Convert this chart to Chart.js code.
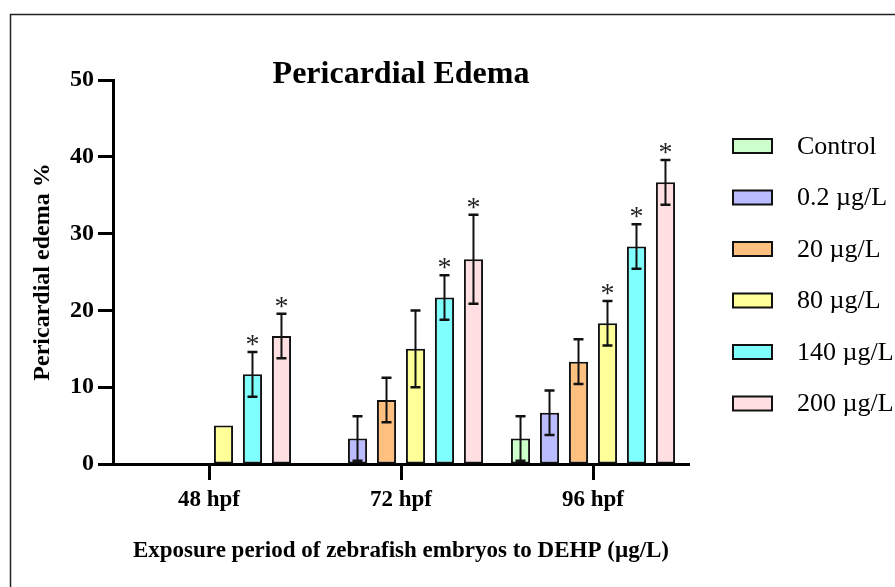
<!DOCTYPE html>
<html>
<head>
<meta charset="utf-8">
<script src="https://cdn.jsdelivr.net/npm/chart.js@4/dist/chart.umd.min.js"></script>
<style>
  html, body { margin: 0; padding: 0; background: #fff; }
  #wrap { width: 895px; height: 587px; }
</style>
</head>
<body>
<div id="wrap"><canvas id="c" width="895" height="587"></canvas></div>
<script>
// ---- data ----
const categories = ['48 hpf', '72 hpf', '96 hpf'];
const seriesNames = ['Control', '0.2 \u00b5g/L', '20 \u00b5g/L', '80 \u00b5g/L', '140 \u00b5g/L', '200 \u00b5g/L'];
const controlVals = [0, 0, 3.33];
const dose02Vals  = [0, 3.33, 6.67];
const dose20Vals  = [0, 8.33, 13.33];
const dose80Vals  = [5.0, 15.0, 18.33];
const dose140Vals = [11.67, 21.67, 28.33];
const dose200Vals = [16.67, 26.67, 36.67];
const controlErr = [0, 0, 2.9];
const dose02Err  = [0, 2.9, 2.9];
const dose20Err  = [0, 2.9, 2.9];
const dose80Err  = [0, 5.0, 2.9];
const dose140Err = [2.9, 2.9, 2.9];
const dose200Err = [2.9, 5.8, 2.9];
const controlSig = [false, false, false];
const dose02Sig  = [false, false, false];
const dose20Sig  = [false, false, false];
const dose80Sig  = [false, false, true];
const dose140Sig = [true, true, true];
const dose200Sig = [true, true, true];
const yTicks = [0, 10, 20, 30, 40, 50];

const fillColors = ['#CCFFCC', '#BBBBFF', '#FFC080', '#FFFF99', '#80FFFF', '#FFDFE1'];
const valuesList = [controlVals, dose02Vals, dose20Vals, dose80Vals, dose140Vals, dose200Vals];
const errList = [controlErr, dose02Err, dose20Err, dose80Err, dose140Err, dose200Err];
const sigList = [controlSig, dose02Sig, dose20Sig, dose80Sig, dose140Sig, dose200Sig];

const SERIF = '"Liberation Serif", "Times New Roman", serif';

const datasets = seriesNames.map((name, i) => ({
  label: name,
  data: valuesList[i],
  err: errList[i],
  sig: sigList[i],
  backgroundColor: fillColors[i],
  borderColor: '#111',
  borderWidth: 2,
  borderSkipped: false,
  categoryPercentage: 0.906,
  barPercentage: 0.66
}));

const decorPlugin = {
  id: 'decor',
  beforeDraw(chart) {
    const ctx = chart.ctx;
    ctx.save();
    ctx.strokeStyle = '#222';
    ctx.lineWidth = 1.5;
    ctx.beginPath();
    ctx.moveTo(10.5, 587);
    ctx.lineTo(10.5, 14.5);
    ctx.lineTo(895, 14.5);
    ctx.stroke();
    ctx.restore();
  },
  afterDatasetsDraw(chart) {
    const ctx = chart.ctx;
    const y = chart.scales.y;
    ctx.save();
    chart.data.datasets.forEach((ds, di) => {
      const meta = chart.getDatasetMeta(di);
      meta.data.forEach((bar, i) => {
        const v = ds.data[i];
        const e = ds.err[i];
        const x = bar.x;
        let topPx = y.getPixelForValue(v);
        if (e > 0) {
          const yt = y.getPixelForValue(v + e);
          const yb = y.getPixelForValue(Math.max(v - e, 0));
          ctx.strokeStyle = '#111';
          ctx.lineWidth = 2;
          ctx.beginPath();
          ctx.moveTo(x, yt); ctx.lineTo(x, yb);
          ctx.stroke();
          ctx.lineWidth = 2.5;
          ctx.beginPath();
          ctx.moveTo(x - 5, yt); ctx.lineTo(x + 5, yt);
          ctx.moveTo(x - 5, yb); ctx.lineTo(x + 5, yb);
          ctx.stroke();
          topPx = yt;
        }
        if (ds.sig[i]) {
          ctx.fillStyle = '#222';
          ctx.font = '28px ' + SERIF;
          ctx.textAlign = 'center';
          ctx.textBaseline = 'alphabetic';
          ctx.fillText('*', x, topPx + 1);
        }
      });
    });
    ctx.restore();
  },
  afterDraw(chart) {
    const ctx = chart.ctx;
    const area = chart.chartArea;
    ctx.save();
    // title
    ctx.fillStyle = '#000';
    ctx.font = 'bold 32px ' + SERIF;
    ctx.textAlign = 'center';
    ctx.textBaseline = 'alphabetic';
    ctx.fillText('Pericardial Edema', (area.left + area.right) / 2, 83);
    // legend
    chart.data.datasets.forEach((ds, i) => {
      const cy = 146 + i * 51.5;
      ctx.fillStyle = ds.backgroundColor;
      ctx.fillRect(733, cy - 7, 39, 14);
      ctx.strokeStyle = '#111';
      ctx.lineWidth = 2;
      ctx.strokeRect(733, cy - 7, 39, 14);
      ctx.fillStyle = '#000';
      ctx.font = '26px ' + SERIF;
      ctx.textAlign = 'left';
      ctx.textBaseline = 'middle';
      ctx.fillText(ds.label, 797, cy + 1);
    });
    ctx.restore();
  }
};

new Chart(document.getElementById('c'), {
  type: 'bar',
  data: { labels: categories, datasets },
  options: {
    responsive: false,
    animation: false,
    devicePixelRatio: 1,
    layout: { padding: { left: 0, right: 206, top: 80, bottom: 0 } },
    plugins: {
      legend: { display: false },
      title: { display: false },
      tooltip: { enabled: false }
    },
    scales: {
      x: {
        afterFit(scale) { scale.height = 123; },
        grid: { display: true, offset: false, drawOnChartArea: false, drawTicks: true,
                tickLength: 16, tickWidth: 3, tickColor: '#000' },
        border: { display: true, color: '#000', width: 3 },
        ticks: { color: '#000', padding: 6, font: { family: SERIF, size: 23, weight: 'bold' } },
        title: { display: true, text: 'Exposure period of zebrafish embryos to DEHP (\u00b5g/L)',
                 color: '#000', padding: { top: 0, bottom: 22 },
                 font: { family: SERIF, size: 23, weight: 'bold' } }
      },
      y: {
        min: 0, max: 50,
        afterFit(scale) { scale.width = 113; },
        afterBuildTicks(scale) { scale.ticks = yTicks.map(v => ({ value: v })); },
        grid: { display: true, drawOnChartArea: false, drawTicks: true,
                tickLength: 15, tickWidth: 3, tickColor: '#000' },
        border: { display: true, color: '#000', width: 3 },
        ticks: { color: '#000', padding: 4, font: { family: SERIF, size: 24, weight: 'bold' } },
        title: { display: true, text: 'Pericardial edema %', color: '#000',
                 padding: { top: 28, bottom: 0 },
                 font: { family: SERIF, size: 24, weight: 'bold' } }
      }
    }
  },
  plugins: [decorPlugin]
});
</script>
</body>
</html>
